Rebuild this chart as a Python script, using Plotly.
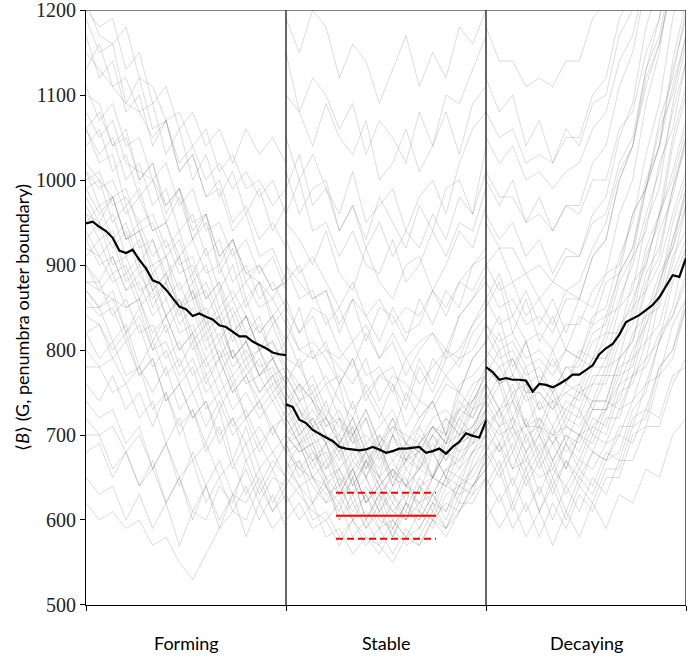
import plotly.graph_objects as go

phases = ["Forming", "Stable", "Decaying"]
y_ticks = [500, 600, 700, 800, 900, 1000, 1100, 1200]

# individual region curves (sampled every 2 steps over 0..30 within each phase)
sample_steps = [0, 2, 4, 6, 8, 10, 12, 14, 16, 18, 20, 22, 24, 26, 28, 30]

forming_curves = [
    [1210,1170,1160,1180,1120,1110,1070,1080,1040,1060,1010,1030,990,1000,970,990],
    [1150,1130,1110,1090,1080,1050,1070,1010,1030,980,1000,950,970,930,950,920],
    [1080,1050,1070,1020,1010,1000,970,990,940,960,910,930,890,880,860,890],
    [1020,1000,980,990,940,950,910,930,880,900,850,870,840,820,840,810],
    [990,960,980,930,940,900,910,870,890,840,870,820,840,800,810,780],
    [960,950,920,940,890,900,860,880,840,850,810,840,790,800,770,780],
    [940,910,930,880,900,850,880,830,850,800,820,780,800,770,780,740],
    [920,910,880,890,850,870,820,850,800,820,770,800,760,770,740,760],
    [900,870,890,850,860,820,840,800,820,770,790,750,770,730,750,720],
    [880,880,840,860,820,830,790,810,770,790,750,770,720,740,700,730],
    [860,840,850,810,830,780,800,760,780,730,750,710,730,690,710,680],
    [840,830,800,820,770,790,740,760,720,740,690,720,670,690,660,690],
    [820,790,810,770,780,730,750,710,730,680,710,660,690,640,670,650],
    [780,780,750,760,720,740,690,720,670,690,650,670,630,660,620,650],
    [740,720,730,690,710,660,690,650,670,620,650,610,640,600,630,590],
    [700,700,660,680,640,670,620,650,600,640,590,630,580,620,590,610],
    [650,630,640,600,630,590,620,570,610,600,640,620,670,630,660,620],
    [620,600,610,590,600,570,580,550,530,560,590,610,600,640,610,630],
    [1100,1090,1040,1060,1000,1020,960,990,930,960,890,920,860,880,840,860],
    [1190,1150,1160,1090,1120,1060,1070,1010,1030,980,990,940,960,910,920,880],
    [1000,1010,970,980,950,960,920,940,890,920,870,900,850,880,830,850],
    [950,970,930,950,900,930,880,910,860,880,840,860,820,840,790,810],
    [1060,1030,1050,1000,1020,970,990,940,960,910,930,880,900,860,880,850],
    [970,940,960,910,930,870,890,850,870,820,840,790,810,770,790,760],
    [880,870,860,850,860,810,840,800,820,780,800,760,780,750,770,730],
    [1130,1160,1110,1120,1080,1090,1030,1060,1000,1030,980,1010,960,990,940,970],
    [900,880,910,870,890,860,880,840,870,830,850,810,840,800,830,790],
    [1010,970,980,930,940,890,910,850,880,830,840,790,810,770,790,750],
    [760,740,770,730,750,710,750,700,730,690,730,670,710,660,680,650],
    [930,900,910,870,880,840,860,820,830,790,810,770,790,750,770,740],
    [1200,1180,1190,1130,1150,1090,1110,1060,1080,1040,1060,1020,1060,1030,1050,1020],
    [850,850,810,830,780,810,770,790,750,770,730,760,720,740,710,720],
    [980,950,980,930,950,910,930,890,900,860,880,840,860,820,840,800],
    [800,780,790,760,780,750,780,730,750,710,740,700,720,680,710,680],
    [1060,1020,1030,970,990,940,950,900,910,860,880,820,840,800,810,770],
    [910,930,890,900,860,890,840,860,820,840,790,820,780,800,760,770],
    [1170,1120,1140,1080,1100,1040,1070,1020,1040,1000,1020,990,1010,980,1000,960],
    [870,850,870,820,850,800,830,780,810,760,790,750,770,740,760,730],
    [720,700,710,680,700,660,690,640,680,640,670,630,660,620,650,640],
    [1040,1060,1010,1030,980,1000,950,980,930,950,900,930,880,900,870,880],
    [990,1000,950,970,920,930,890,910,860,870,830,850,810,830,790,800],
    [1110,1070,1090,1040,1050,1000,1020,970,990,940,950,910,930,890,910,870],
    [930,950,900,910,870,880,840,860,810,830,790,800,770,790,750,770],
    [870,850,860,820,840,800,810,770,790,750,770,730,750,720,740,710],
    [960,930,940,890,910,870,890,850,860,810,830,790,810,780,790,760],
    [1060,1080,1040,1050,1000,1020,970,990,950,960,910,930,890,900,870,880],
    [820,830,790,810,770,790,740,760,720,740,700,720,690,710,680,700],
    [1010,990,1000,960,980,940,950,910,930,890,900,860,880,850,860,830],
    [680,690,650,680,640,660,620,650,610,640,600,630,620,650,610,640],
]

stable_curves = [
    [1190,1150,1200,1180,1120,1160,1140,1090,1130,1170,1110,1150,1120,1180,1160,1200],
    [1100,1080,1040,1090,1050,1030,1070,1000,1020,1060,1010,1040,1080,1030,1090,1110],
    [1010,960,990,1000,940,970,930,980,950,920,970,940,990,1000,960,1040],
    [950,930,900,940,890,870,920,880,860,900,910,870,900,940,920,970],
    [900,880,860,870,830,860,810,850,840,810,860,830,870,850,900,910],
    [860,820,850,840,800,780,820,790,810,770,800,820,790,840,860,880],
    [830,800,790,810,760,790,750,770,780,740,790,760,800,780,820,840],
    [790,780,750,770,740,720,760,730,700,750,720,740,770,750,790,810],
    [770,740,760,720,700,740,690,710,730,690,720,740,700,760,770,790],
    [750,730,700,720,690,710,660,700,680,670,710,680,720,700,740,770],
    [730,700,720,690,660,680,650,690,640,680,660,700,670,690,730,740],
    [720,690,670,690,650,630,670,640,660,620,670,650,680,660,700,730],
    [700,680,690,640,660,630,650,610,640,650,610,650,640,680,690,700],
    [690,650,670,640,610,650,600,630,610,600,640,620,650,620,670,700],
    [670,640,620,650,600,620,590,620,580,610,600,630,600,640,650,680],
    [650,630,610,600,620,580,600,570,600,580,590,620,590,630,640,670],
    [630,600,620,580,590,560,580,570,550,580,570,600,580,610,630,650],
    [760,790,740,720,760,700,730,690,720,690,710,740,700,750,730,780],
    [720,740,710,690,720,670,690,650,700,660,680,710,690,720,700,750],
    [690,700,660,690,640,670,650,620,660,640,630,680,650,690,700,720],
    [740,760,740,710,720,690,700,680,720,670,690,710,690,740,720,760],
    [810,850,790,800,780,760,790,740,770,760,740,790,770,790,800,830],
    [680,690,650,670,630,660,620,640,600,640,620,630,660,650,680,700],
    [660,670,640,620,650,600,630,600,590,620,590,620,610,640,630,680],
    [880,900,860,870,820,860,840,810,850,820,830,870,840,880,870,900],
    [1150,1080,1120,1100,1060,1090,1030,1070,1050,1020,1080,1040,1100,1090,1130,1170],
    [740,700,720,690,700,660,680,650,670,640,660,650,680,690,700,720],
    [700,680,690,650,660,620,640,610,630,600,640,610,650,640,680,690],
    [780,750,770,730,710,700,720,670,700,680,690,710,700,730,760,770],
    [1050,1000,1030,990,960,1010,950,970,990,940,980,1000,960,1020,1060,1080],
    [840,800,810,790,760,790,740,770,760,730,780,750,790,800,830,860],
    [960,1000,940,950,910,940,900,890,930,880,900,940,910,950,940,990],
    [600,620,590,600,570,600,580,560,590,570,580,610,590,620,620,650],
    [770,740,750,710,730,690,720,680,710,690,680,700,720,700,730,760],
    [690,710,670,680,640,660,620,650,630,610,650,630,660,670,690,710],
    [720,690,710,670,690,650,680,640,660,640,690,650,700,680,710,740],
    [820,780,800,760,770,730,750,720,760,710,740,730,760,750,790,810],
    [990,1030,970,990,940,970,920,950,910,940,920,960,930,980,960,1010],
    [640,670,620,640,600,630,590,610,580,620,600,630,610,650,640,670],
    [710,730,690,700,670,700,650,680,640,670,660,690,670,710,690,730],
    [750,720,740,700,680,710,670,690,650,690,670,700,680,720,740,760],
    [680,660,650,630,640,610,630,590,620,600,620,600,640,630,660,680],
    [900,860,870,830,850,810,830,790,820,790,810,820,800,840,860,890],
    [660,640,650,620,630,600,610,590,600,580,610,600,620,610,640,660],
    [730,760,710,720,690,720,680,700,670,690,680,710,690,730,720,750],
    [740,710,730,700,680,700,660,690,650,670,680,650,690,700,710,740],
    [700,720,680,660,690,640,670,630,650,640,660,680,650,700,710,730],
    [780,760,740,760,720,700,730,690,710,700,690,720,730,710,750,780],
    [660,690,650,640,620,650,600,630,590,620,610,590,630,640,660,690],
    [620,640,600,610,580,600,570,590,560,590,570,600,590,610,640,660],
    [850,820,840,800,790,810,770,780,750,790,760,780,800,790,830,850],
    [760,730,710,740,690,720,680,660,700,670,700,680,710,730,740,770],
    [710,690,700,660,680,640,670,650,620,660,640,650,680,670,700,720],
    [930,890,910,880,850,880,840,860,830,850,840,870,850,880,900,920],
    [690,660,680,650,630,660,620,640,610,630,620,650,640,660,680,710],
]

decaying_curves = [
    [620,590,620,580,610,570,610,580,620,590,630,620,660,650,700,720],
    [650,620,650,610,640,600,640,610,650,630,670,670,710,710,760,790],
    [680,650,680,640,670,630,670,640,680,670,710,710,760,770,830,860],
    [700,680,700,660,690,650,690,660,700,690,730,740,790,810,880,920],
    [720,700,710,680,710,670,700,680,720,710,760,770,830,860,930,980],
    [740,710,740,690,720,690,720,710,740,740,790,810,880,910,990,1050],
    [760,730,760,710,740,710,740,730,770,770,820,840,910,950,1040,1100],
    [780,760,770,740,750,730,760,750,790,790,850,870,950,990,1090,1160],
    [800,780,790,760,770,750,780,770,810,820,880,910,990,1040,1140,1210],
    [830,800,810,780,790,770,800,790,840,850,910,950,1030,1090,1190,1250],
    [860,830,840,810,820,800,830,830,870,890,960,1000,1090,1150,1250,1300],
    [900,870,880,840,860,830,870,860,910,930,1000,1040,1130,1190,1290,1350],
    [950,920,920,890,900,880,910,910,960,980,1050,1090,1180,1230,1310,1380],
    [1010,980,980,950,960,940,970,970,1020,1040,1110,1150,1230,1280,1360,1420],
    [1080,1050,1060,1020,1030,1020,1050,1050,1100,1120,1190,1220,1300,1340,1410,1450],
    [1180,1140,1140,1110,1120,1110,1140,1140,1190,1210,1270,1290,1360,1390,1460,1500],
    [690,660,690,650,680,640,670,650,680,670,700,690,730,720,770,780],
    [730,760,710,750,700,740,690,730,700,740,730,770,780,820,840,880],
    [770,800,740,780,730,760,720,760,730,770,770,820,840,890,920,970],
    [810,840,780,810,760,790,760,790,780,820,820,880,900,960,1000,1060],
    [660,690,640,680,630,670,630,660,640,680,670,720,730,780,800,850],
    [750,720,750,710,710,700,710,700,730,730,780,790,850,870,950,1000],
    [790,760,790,750,760,740,750,740,780,780,830,850,920,960,1050,1110],
    [700,730,680,720,670,710,660,700,680,720,720,770,790,860,900,970],
    [850,880,820,860,810,840,800,840,830,880,890,960,990,1070,1120,1200],
    [640,670,620,660,610,650,610,650,630,670,680,730,750,810,850,920],
    [720,690,720,680,700,670,700,690,730,730,770,780,840,850,910,940],
    [880,850,860,830,840,820,860,860,910,930,1000,1040,1120,1160,1240,1300],
    [760,730,740,710,720,700,730,720,760,760,810,830,890,920,990,1040],
    [1000,970,1000,950,980,940,970,960,1000,1000,1060,1080,1150,1190,1270,1320],
    [600,630,590,620,580,620,590,630,610,650,650,700,710,770,790,850],
    [740,770,720,760,710,750,710,750,740,780,790,850,870,940,980,1050],
    [820,790,800,770,780,750,780,780,820,830,890,920,1000,1040,1130,1190],
    [680,710,660,700,660,690,660,700,690,730,740,790,810,880,920,990],
    [710,680,710,670,700,660,690,670,710,700,750,760,810,830,890,930],
    [790,820,770,810,760,800,760,800,790,840,850,910,940,1020,1060,1140],
    [1120,1080,1100,1040,1070,1020,1060,1040,1090,1100,1170,1200,1280,1320,1400,1460],
    [960,930,950,910,930,890,920,910,950,960,1020,1050,1130,1170,1250,1310],
    [630,660,610,650,610,640,600,640,620,660,660,710,720,780,800,860],
    [860,890,840,870,830,860,820,860,850,890,900,960,990,1060,1100,1170],
    [830,810,820,790,800,780,800,790,830,840,890,920,990,1040,1110,1170],
    [730,710,720,700,710,690,710,700,740,740,790,810,870,900,960,1010],
    [670,690,660,670,650,660,640,670,660,690,700,740,760,810,840,890],
    [900,920,880,890,860,880,870,880,920,950,1010,1040,1110,1160,1230,1290],
    [760,780,750,760,730,740,730,750,760,790,820,860,900,960,1010,1070],
    [710,730,700,710,680,700,680,700,710,730,760,800,830,880,930,990],
    [780,760,770,750,750,730,750,760,790,810,860,900,960,1010,1080,1140],
    [1050,1020,1040,1000,1010,990,1010,1020,1060,1080,1140,1170,1240,1290,1350,1410],
]

mean_steps = list(range(31))
forming_mean = [949,951,945,940,932,917,914,918,906,896,882,879,871,861,851,848,
                840,843,839,836,829,827,822,816,816,810,806,802,797,795,794]
stable_mean = [736,733,718,714,706,701,697,693,686,684,683,682,683,686,683,679,
               681,684,684,685,686,679,681,684,678,686,692,702,699,697,717]
decaying_mean = [780,774,765,767,765,765,764,751,760,759,756,760,765,771,771,776,
                 782,795,802,807,818,833,837,841,847,853,862,875,888,886,908]

# stable-phase reference level and its spread
stable_ref = 605
stable_ref_low = 578
stable_ref_high = 632
stable_ref_span = [7.5, 22.5]

phase_len = 30
all_curves = [forming_curves, stable_curves, decaying_curves]
all_means = [forming_mean, stable_mean, decaying_mean]

fig = go.Figure()

for p, curves in enumerate(all_curves):
    off = p * phase_len
    for c in curves:
        fig.add_trace(go.Scatter(
            x=[off + s for s in sample_steps], y=c, mode="lines",
            line=dict(color="rgba(90,90,90,0.21)", width=1),
            hoverinfo="skip", showlegend=False))

for p, m in enumerate(all_means):
    off = p * phase_len
    fig.add_trace(go.Scatter(
        x=[off + s for s in mean_steps], y=m, mode="lines",
        line=dict(color="black", width=2.2), showlegend=False))

off = phase_len
xs = [off + stable_ref_span[0], off + stable_ref_span[1]]
fig.add_trace(go.Scatter(x=xs, y=[stable_ref] * 2, mode="lines",
                         line=dict(color="#ff0000", width=2), showlegend=False))
for v in (stable_ref_low, stable_ref_high):
    fig.add_trace(go.Scatter(x=xs, y=[v] * 2, mode="lines",
                             line=dict(color="#ff0000", width=2, dash="7px,4px"),
                             showlegend=False))

# panel separators and frame
for xv in (phase_len, 2 * phase_len, 3 * phase_len):
    fig.add_shape(type="line", x0=xv, x1=xv, y0=500, y1=1200, xref="x", yref="y",
                  line=dict(color="black", width=1.2), layer="above")
fig.add_shape(type="line", x0=0, x1=90, y0=1200, y1=1200, xref="x", yref="y",
              line=dict(color="#555555", width=1.5), layer="above")

for p, name in enumerate(phases):
    fig.add_annotation(x=p * phase_len + phase_len / 2, y=-0.064, xref="x", yref="paper",
                       text=name, showarrow=False, yanchor="middle",
                       font=dict(family="Lato", size=18, color="black"))

fig.add_annotation(x=-0.107, y=0.484, xref="paper", yref="paper",
                   text="⟨<i>B</i>⟩ (G, penumbra outer boundary)", textangle=-90,
                   showarrow=False, xanchor="center", yanchor="middle",
                   font=dict(family="Lato", size=18, color="black"))

fig.update_layout(
    width=700, height=659,
    margin=dict(l=86, r=14, t=10, b=54, autoexpand=False),
    paper_bgcolor="white", plot_bgcolor="white",
    xaxis=dict(range=[0, 90], tickvals=[0, 30, 60, 90], showticklabels=False,
               ticks="outside", ticklen=5, tickcolor="black", showgrid=False,
               zeroline=False, showline=True, linecolor="black", linewidth=1.2,
               automargin=False),
    yaxis=dict(range=[499.99, 1200.01], tickvals=y_ticks, ticks="outside", ticklen=5,
               tickcolor="black", showgrid=False, zeroline=False, showline=True,
               linecolor="black", linewidth=1.2, ticklabeloverflow="allow",
               automargin=False,
               tickfont=dict(family="Liberation Serif", size=20, color="#222")),
)

fig.write_html("out.html")
